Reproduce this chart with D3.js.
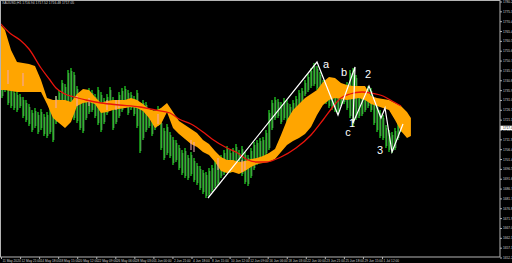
<!DOCTYPE html>
<html lang="en">
<head>
<meta charset="utf-8">
<title>H1 ichimoku waves</title>
<script src="https://d3js.org/d3.v7.min.js"></script>
<style>
  body { margin: 0; background: #000; }
  svg { display: block; }
</style>
</head>
<body>
<script>
var w = 512;
var h = 263;
var frame = {left: 0.5, top: 0.5, right: 500, bottom: 257};

// price bars (high / low), one every bar index
var highs = [1745, 1748, 1743.5, 1737, 1736, 1735, 1734, 1732.5, 1731, 1729,
             1726, 1727, 1725, 1726.5, 1724, 1725, 1727, 1729, 1733, 1736,
             1741, 1739, 1746, 1747, 1745, 1738, 1733.5, 1732, 1735, 1737,
             1736, 1734, 1737.5, 1735, 1732, 1734, 1737.5, 1732.5, 1731, 1735,
             1737, 1738, 1736, 1735, 1733, 1736, 1729, 1731, 1730, 1727,
             1725, 1726, 1728, 1721, 1717, 1719, 1715, 1712.5, 1711, 1708.5,
             1706, 1707, 1703.5, 1705, 1702, 1699.5, 1698, 1696, 1695, 1697,
             1698.5, 1701, 1700, 1703.5, 1706, 1708, 1706, 1707, 1709, 1706,
             1708, 1705, 1703.5, 1707, 1710, 1711, 1712, 1712.5, 1716, 1726,
             1731, 1732.5, 1731.5, 1730, 1732, 1731, 1729, 1731, 1733, 1736,
             1737, 1741, 1744, 1747, 1749.5, 1748, 1745, 1741, 1738.5, 1737,
             1736, 1735, 1733, 1737, 1738, 1740, 1746, 1747, 1743.5, 1737,
             1735, 1736, 1738, 1737, 1732, 1729, 1726, 1723.5, 1718.5, 1716,
             1715, 1717, 1720, 1721];
var lows = [1732, 1735, 1728.5, 1727, 1726, 1725, 1727, 1722, 1720, 1718,
            1715, 1717, 1714, 1716, 1713, 1712, 1714, 1710, 1719, 1721,
            1722.5, 1725, 1727, 1723.5, 1721, 1719.5, 1716, 1714.5, 1721, 1724,
            1725, 1722, 1718.5, 1715, 1719, 1723.5, 1726, 1716, 1719, 1722,
            1725, 1727, 1723.5, 1726, 1723, 1717, 1704.5, 1711, 1715, 1717,
            1713, 1716, 1718, 1706, 1701, 1703.5, 1702, 1698.5, 1700, 1696,
            1693.5, 1692, 1691, 1693, 1690, 1688.5, 1686, 1684, 1682, 1683,
            1685, 1687, 1688.5, 1692, 1693.5, 1696, 1694.5, 1697, 1698, 1695,
            1693, 1689, 1688, 1692, 1696, 1698.5, 1701, 1702, 1703.5, 1706,
            1716, 1721, 1722, 1719, 1721, 1720, 1718.5, 1722, 1725, 1727,
            1729, 1733, 1735, 1737, 1738, 1736, 1733.5, 1731, 1729, 1727,
            1726, 1725, 1724.5, 1728, 1729, 1726, 1722, 1718, 1721, 1722,
            1723, 1725, 1727, 1725, 1718.5, 1715, 1712, 1711, 1707, 1705,
            1704.5, 1706, 1711, 1715];
var lastPrice = 1717.05;

// ichimoku cloud (shifted forward), by bar index
var cloudBar = [-1, 1, 3, 5, 7, 9, 11, 13, 15, 17, 19, 21, 23, 25, 27, 29, 31, 33, 35, 37,
                39, 41, 43, 45, 47, 49, 51, 53, 55, 57, 59, 61, 63, 65, 67, 69, 71, 73, 75, 77,
                79, 81, 83, 85, 87, 89, 91, 93, 95, 97, 99, 101, 103, 105, 107, 109, 111, 113, 115, 117,
                119, 121, 123, 125, 127, 129, 131, 133, 135, 136.3];
var cloudTop = [1769.5, 1766, 1756, 1750, 1749.5, 1749, 1748, 1741, 1732, 1731,
                1731, 1731, 1730, 1734, 1736.5, 1736, 1732.5, 1729.5, 1730.5, 1731,
                1731, 1731, 1732, 1731, 1729, 1726.5, 1725.5, 1727, 1729.5, 1725,
                1720.5, 1718.5, 1716.5, 1714.5, 1711, 1709, 1705.5, 1702.5, 1701, 1701,
                1700, 1700.5, 1701.5, 1702, 1703, 1704.5, 1706.5, 1713.5, 1721, 1726,
                1729, 1732, 1734, 1736, 1740, 1742.5, 1742, 1739.5, 1738.5, 1738,
                1738, 1738, 1733, 1732, 1731.5, 1731, 1729.5, 1728, 1725, 1722];
var cloudBottom = [1736, 1736, 1735.5, 1735, 1735, 1735, 1735, 1735, 1729, 1722,
                   1719.5, 1717, 1720, 1728, 1729.5, 1730, 1729, 1724.5, 1725, 1726,
                   1726.5, 1727, 1727.5, 1727, 1725.5, 1722, 1717, 1719, 1725, 1717,
                   1714, 1711.5, 1709, 1707.5, 1705, 1703.5, 1700, 1695.5, 1694.5, 1695,
                   1694, 1695.5, 1697.5, 1699, 1699.5, 1700, 1701.5, 1705, 1708.5, 1710.5,
                   1712, 1714, 1717.5, 1723.5, 1728.5, 1731, 1732, 1731.5, 1731, 1731.5,
                   1732, 1731, 1729, 1728, 1727, 1726, 1721, 1715.5, 1712, 1713];

// thistle streaks inside the cloud
var pinkBar = [2, 7, 18, 25, 29, 35, 38, 39, 52, 63, 64, 72, 80, 81];
var pinkTop = [1746, 1744.5, 1733, 1733, 1732, 1731, 1731, 1731, 1724, 1711, 1710, 1702, 1701, 1700.5];
var pinkBottom = [1739, 1738, 1727, 1728, 1728, 1726, 1726, 1727, 1719, 1706, 1705, 1696, 1695, 1696];

// moving average
var maBar = [-1, 3, 6, 9, 13, 16, 18, 21, 24, 28, 33, 39, 46, 51, 56, 59, 63, 67, 70, 75,
             78, 82, 85, 88, 93, 98, 103, 107, 110, 113, 116, 120, 123, 127, 130, 133];
var maVal = [1770, 1764, 1761, 1756.5, 1747, 1741, 1737, 1734, 1732.5, 1731, 1729.5, 1728.5,
             1727.5, 1726, 1724.5, 1721.5, 1719, 1715, 1711.5, 1707, 1705, 1701, 1700, 1700,
             1702.5, 1707, 1713.5, 1721, 1727, 1732, 1734, 1735, 1734.5, 1733, 1730.5, 1728];

// wave count drawn by hand
var waveBar = [68.67, 105, 112, 117.67, 117, 122.33, 126.33, 127.67, 130, 133.67];
var waveVal = [1682, 1750, 1723.5, 1747.5, 1719.5, 1738, 1722, 1727, 1705, 1719];
var waveLabels = ["a", "b", "c", "1", "2", "3"];
var labelBar = [108, 114, 115.33, 116.67, 122, 126];
var labelVal = [1749, 1745, 1715, 1719.5, 1744, 1706];

// axis labels
var priceTicks = [1780.25, 1775.33, 1770.40, 1765.48, 1760.56, 1755.63, 1750.71, 1745.79, 1740.87,
                  1735.94, 1731.02, 1726.10, 1721.17, 1716.25, 1711.33, 1706.41, 1701.48, 1696.56,
                  1691.64, 1686.71, 1681.79, 1676.87, 1671.94, 1667.02, 1662.10, 1657.17, 1652.25];
var dateLabels = ["11 May 2020", "12 May 21:00", "14 May 18:00", "18 May 15:00", "20 May 12:00",
                  "22 May 09:00", "26 May 06:00", "28 May 03:00", "1 Jun 00:00", "2 Jun 21:00",
                  "4 Jun 18:00", "8 Jun 15:00", "10 Jun 12:00", "12 Jun 09:00", "16 Jun 06:00",
                  "18 Jun 03:00", "22 Jun 00:00", "23 Jun 21:00", "25 Jun 18:00", "29 Jun 15:00",
                  "1 Jul 12:00"];
var header = "XAUUSD,H1  1716.94 1717.52 1716.48 1717.05";

// scales
var xScale = d3.scaleLinear()
               .domain([0, highs.length - 1])
               .range([2, 401]);
var yScale = d3.scaleLinear()
               .domain([1652.25, 1780.25])
               .range([257.5, 1.5]);
var dateScale = d3.scalePoint()
                  .domain(dateLabels)
                  .range([1, 382]);

var svg = d3.select("body")
            .append("svg")
            .attr("width", w)
            .attr("height", h)
            .style("background", "#000")
            .style("font-family", "'Liberation Sans', Arial, sans-serif");

svg.append("clipPath")
   .attr("id", "plotclip")
   .append("rect")
   .attr("x", frame.left).attr("y", frame.top)
   .attr("width", frame.right - frame.left)
   .attr("height", frame.bottom - frame.top);

var plot = svg.append("g").attr("clip-path", "url(#plotclip)");

// price bars
plot.append("g")
    .selectAll("rect")
    .data(highs)
    .enter()
    .append("rect")
    .attr("x", function(d, i) { return xScale(i) - 0.65; })
    .attr("y", function(d) { return yScale(d); })
    .attr("width", 1.3)
    .attr("height", function(d, i) { return yScale(lows[i]) - yScale(d); })
    .attr("fill", "#1fcb1f");

plot.append("g")
    .selectAll("line")
    .data(highs)
    .enter()
    .append("line")
    .attr("x1", function(d, i) { return xScale(i) + 0.9; })
    .attr("x2", function(d, i) { return xScale(i) + 0.9; })
    .attr("y1", function(d, i) { return yScale(d) + 3; })
    .attr("y2", function(d, i) { return yScale(lows[i]) - 2; })
    .attr("stroke", "#a6f8a6")
    .attr("stroke-width", 0.5);

// cloud
var cloud = cloudBar.map(function(b, i) {
  return {bar: b, top: cloudTop[i], bottom: cloudBottom[i]};
});
plot.append("path")
    .datum(cloud)
    .attr("fill", "#ffa500")
    .attr("d", d3.area()
                 .x(function(d) { return xScale(d.bar); })
                 .y0(function(d) { return yScale(d.bottom); })
                 .y1(function(d) { return yScale(d.top); }));

plot.append("g")
    .selectAll("line")
    .data(pinkBar)
    .enter()
    .append("line")
    .attr("x1", function(d) { return xScale(d); })
    .attr("x2", function(d) { return xScale(d); })
    .attr("y1", function(d, i) { return yScale(pinkTop[i]); })
    .attr("y2", function(d, i) { return yScale(pinkBottom[i]); })
    .attr("stroke", "#f2a6b6")
    .attr("stroke-width", 1);

// moving average
plot.append("path")
    .datum(maBar)
    .attr("fill", "none")
    .attr("stroke", "#e8140c")
    .attr("stroke-width", 1.3)
    .attr("d", d3.line()
                 .curve(d3.curveMonotoneX)
                 .x(function(d) { return xScale(d); })
                 .y(function(d, i) { return yScale(maVal[i]); }));

// wave lines
plot.append("path")
    .datum(waveBar)
    .attr("fill", "none")
    .attr("stroke", "#ffffff")
    .attr("stroke-width", 1.2)
    .attr("d", d3.line()
                 .x(function(d) { return xScale(d); })
                 .y(function(d, i) { return yScale(waveVal[i]); }));

plot.append("g")
    .selectAll("text")
    .data(waveLabels)
    .enter()
    .append("text")
    .attr("x", function(d, i) { return xScale(labelBar[i]); })
    .attr("y", function(d, i) { return yScale(labelVal[i]); })
    .attr("dy", "0.36em")
    .attr("text-anchor", "middle")
    .attr("font-size", "11px")
    .attr("fill", "#ffffff")
    .text(function(d) { return d; });

// frame
svg.append("rect")
   .attr("x", frame.left).attr("y", frame.top)
   .attr("width", frame.right - frame.left)
   .attr("height", frame.bottom - frame.top)
   .attr("fill", "none")
   .attr("stroke", "#b4b4b4")
   .attr("stroke-width", 1);

// header
svg.append("text")
   .attr("x", 2)
   .attr("y", 4)
   .attr("font-size", "3.4px")
   .attr("fill", "#cfcfcf")
   .text(header);

// price axis
var yAxis = d3.axisRight(yScale)
              .tickValues(priceTicks)
              .tickSize(2)
              .tickSizeOuter(0)
              .tickPadding(1)
              .tickFormat(d3.format(".2f"));
var ya = svg.append("g")
            .attr("transform", "translate(" + frame.right + ",0)")
            .call(yAxis);
ya.select(".domain").remove();
ya.selectAll("line").attr("stroke", "#b4b4b4");
ya.selectAll("text").attr("font-size", "3.2px").attr("fill", "#d0d0d0").attr("font-family", null);

// current price box
var cp = svg.append("g").attr("transform", "translate(" + (frame.right + 0.5) + "," + yScale(lastPrice) + ")");
cp.append("rect").attr("x", 0).attr("y", -2.2).attr("width", 12).attr("height", 4.4).attr("fill", "#ffffff");
cp.append("text").attr("x", 2.5).attr("dy", "0.35em").attr("font-size", "3.2px").attr("fill", "#000").text(lastPrice.toFixed(2));

// time axis
var xAxis = d3.axisBottom(dateScale)
              .tickSize(2)
              .tickSizeOuter(0)
              .tickPadding(0.5);
var xa = svg.append("g")
            .attr("transform", "translate(0," + frame.bottom + ")")
            .call(xAxis);
xa.select(".domain").remove();
xa.selectAll("line").attr("stroke", "#b4b4b4");
xa.selectAll("text")
  .attr("font-size", "3.2px")
  .attr("fill", "#d0d0d0")
  .attr("text-anchor", "start")
  .attr("x", 1)
  .attr("font-family", null);
</script>
</body>
</html>
